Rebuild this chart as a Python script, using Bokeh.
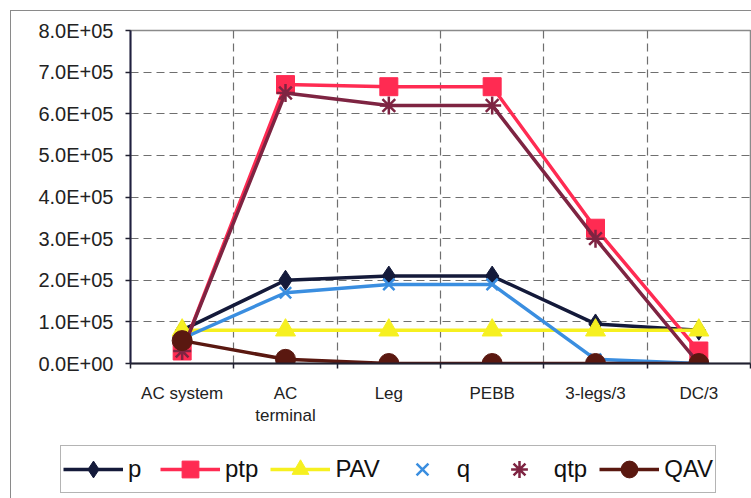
from bokeh.plotting import figure
from bokeh.layouts import column
from bokeh.models import Range1d, FixedTicker, Legend, LegendItem
from bokeh.embed import file_html
from bokeh.resources import INLINE

# Categories along the conversion chain
categories = ["AC system", "AC\nterminal", "Leg", "PEBB", "3-legs/3", "DC/3"]

# Series values
p_vals = [8.0e4, 2.0e5, 2.1e5, 2.1e5, 9.5e4, 8.0e4]
ptp_vals = [3.0e4, 6.7e5, 6.65e5, 6.65e5, 3.25e5, 3.0e4]
pav_vals = [8.0e4, 8.0e4, 8.0e4, 8.0e4, 8.0e4, 8.0e4]
q_vals = [6.0e4, 1.7e5, 1.9e5, 1.9e5, 1.0e4, 0.0]
qtp_vals = [3.0e4, 6.5e5, 6.2e5, 6.2e5, 3.0e5, 0.0]
qav_vals = [5.5e4, 1.0e4, 0.0, 0.0, 0.0, 0.0]

# Y tick values and labels
y_ticks = [0, 1e5, 2e5, 3e5, 4e5, 5e5, 6e5, 7e5, 8e5]
y_labels = ["0.0E+00", "1.0E+05", "2.0E+05", "3.0E+05", "4.0E+05",
            "5.0E+05", "6.0E+05", "7.0E+05", "8.0E+05"]

FONT = "Liberation Sans"
x = list(range(len(categories)))
bounds = [i - 0.5 for i in range(len(categories) + 1)]

# Series styles: (name, values, colour, marker, marker size, has line in legend)
series = [
    ("p", p_vals, "#141a3a", "diamond", 20, True),
    ("ptp", ptp_vals, "#ff2b52", "square", 18, True),
    ("PAV", pav_vals, "#f6f020", "triangle", 20, True),
    ("q", q_vals, "#3a8ee0", "x", 16, False),
    ("qtp", qtp_vals, "#7e2442", "asterisk", 18, False),
    ("QAV", qav_vals, "#5a1810", "circle", 20, True),
]


def add_series(fig, vals, color, marker, size):
    line = fig.line(x, vals, line_color=color, line_width=3.5)
    if marker in ("x", "asterisk"):
        mark = fig.scatter(x, vals, marker=marker, size=size, line_color=color,
                           line_width=2.5)
    else:
        mark = fig.scatter(x, vals, marker=marker, size=size, fill_color=color,
                           line_color=color)
    return line, mark


# Main chart
p = figure(width=740, height=430, output_backend="svg", toolbar_location=None,
           x_range=Range1d(-0.5, len(categories) - 0.5), y_range=Range1d(0, 8e5),
           min_border_left=119, min_border_right=1, min_border_top=19,
           min_border_bottom=78)
p.frame_align = False
p.background_fill_color = "white"
p.border_fill_color = "white"
p.outline_line_color = "#8a8a8a"
p.outline_line_width = 1.5

# X axis: labels at category centres, small tick marks at category boundaries
xa = p.xaxis[0]
xa.ticker = FixedTicker(ticks=x, minor_ticks=bounds)
xa.major_label_overrides = {i: c for i, c in zip(x, categories)}
xa.major_tick_line_color = None
xa.minor_tick_in = 0
xa.minor_tick_out = 5
xa.minor_tick_line_color = "#202030"
xa.minor_tick_line_width = 1.5
xa.axis_line_color = "#202030"
xa.axis_line_width = 2
xa.major_label_standoff = 14
xa.major_label_text_font = FONT
xa.major_label_text_font_size = "17px"
xa.major_label_text_color = "#222222"

ya = p.yaxis[0]
ya.ticker = FixedTicker(ticks=y_ticks)
ya.major_label_overrides = {t: l for t, l in zip(y_ticks, y_labels)}
ya.minor_tick_line_color = None
ya.major_tick_in = 0
ya.major_tick_out = 5
ya.major_tick_line_color = "#202030"
ya.major_tick_line_width = 1.5
ya.axis_line_color = "#202040"
ya.axis_line_width = 2
ya.major_label_standoff = 12
ya.major_label_text_font = FONT
ya.major_label_text_font_size = "20px"
ya.major_label_text_color = "#222222"

p.xgrid.ticker = FixedTicker(ticks=bounds[1:-1])
for g in (p.xgrid[0], p.ygrid[0]):
    g.grid_line_color = "#6f6f6f"
    g.grid_line_dash = "8 5"
    g.grid_line_width = 1.2

for name, vals, color, marker, size, _ in series:
    add_series(p, vals, color, marker, size)

# Legend strip: same series drawn into a range that keeps them off-view,
# so only the legend entries show
pl = figure(width=740, height=57, output_backend="svg", toolbar_location=None,
            x_range=Range1d(0, 1), y_range=Range1d(-2, -1),
            x_axis_location=None, y_axis_location=None,
            min_border_left=0, min_border_right=0, min_border_top=0,
            min_border_bottom=0)
pl.frame_align = False
pl.grid.visible = False
pl.outline_line_color = None
pl.background_fill_color = "white"
pl.border_fill_color = "white"

items = []
for name, vals, color, marker, size, with_line in series:
    line, mark = add_series(pl, vals, color, marker, size)
    items.append(LegendItem(label=name, renderers=[line, mark] if with_line else [mark]))

legend = Legend(items=items, orientation="horizontal", location=(49, 5))
legend.glyph_width = 60
legend.glyph_height = 42
legend.label_standoff = 5
legend.spacing = 12
legend.padding = 2
legend.margin = 0
legend.label_text_font = FONT
legend.label_text_font_size = "24px"
legend.label_text_color = "#111111"
legend.border_line_color = "#6a6a6a"
legend.border_line_width = 1.5
legend.background_fill_color = "white"
legend.background_fill_alpha = 1
pl.add_layout(legend, "center")

# Whole chart with a thin grey border
layout = column(p, pl, spacing=0)
layout.margin = (11, 0, 0, 11)
layout.styles = {"outline": "1.5px solid #8a8a8a"}

open("out.html", "w").write(file_html(layout, INLINE))
